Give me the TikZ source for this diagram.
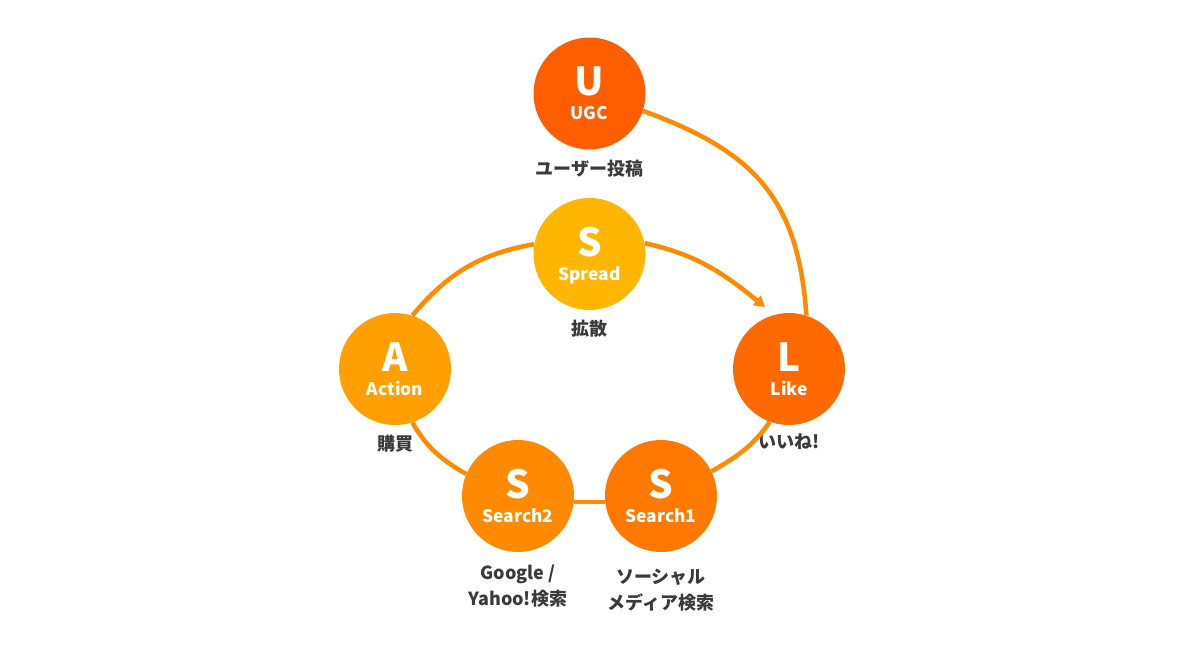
\documentclass[tikz,border=0pt]{standalone}
\usepackage{fontspec}
\setmainfont{Noto Sans CJK JP}
\usetikzlibrary{positioning,arrows.meta}
\definecolor{ugcRed}{RGB}{255,94,0}
\definecolor{spreadYellow}{RGB}{255,182,0}
\definecolor{likeOrange}{RGB}{255,106,0}
\definecolor{searchOneOrange}{RGB}{255,120,0}
\definecolor{searchTwoOrange}{RGB}{255,138,0}
\definecolor{actionOrange}{RGB}{255,160,0}
\definecolor{loopOrange}{RGB}{255,140,0}
\definecolor{captionGray}{RGB}{58,58,58}
\newcommand{\stageletter}[1]{{\fontsize{29}{18}\selectfont #1}}

\begin{document}
\begin{tikzpicture}[x=0.75pt, y=0.75pt,
    stage/.style={circle, fill=#1, minimum size=84pt, inner sep=0pt, text=white,
      align=center, text depth=0pt, font=\bfseries\fontsize{13}{18}\selectfont},
    caption/.style={text=captionGray, align=center, inner sep=0pt,
      font=\bfseries\fontsize{13.5}{20}\selectfont},
    loopline/.style={draw=loopOrange, line width=3.4pt}]
  \useasboundingbox (0,0) rectangle (1181,-664);

  % stages
  \node[stage=ugcRed] (ugc) at (589.5,-93.5) {\stageletter{U}\\UGC};
  \node[stage=spreadYellow] (spread) at (589.5,-254) {\stageletter{S}\\Spread};
  \node[stage=actionOrange] (action) at (395,-369) {\stageletter{A}\\Action};
  \node[stage=likeOrange] (like) at (789,-369) {\stageletter{L}\\Like};
  \node[stage=searchTwoOrange] (search2) at (518,-496) {\stageletter{S}\\Search2};
  \node[stage=searchOneOrange] (search1) at (661,-496) {\stageletter{S}\\Search1};
  \coordinate (likeIn) at (765,-307);

  % captions
  \node[caption, below=7.5pt of ugc] {ユーザー投稿};
  \node[caption, below=7.5pt of spread] {拡散};
  \node[caption, below=7.5pt of action] {購買};
  \node[caption, below=6pt of like] {いいね!};
  \node[caption, below=9pt of search2] {Google /\\Yahoo!検索};
  \node[caption, below=12pt of search1] {ソーシャル\\メディア検索};

  % loop
  \draw[loopline] (action.72) to[out=50, in=190] (spread.170);
  \draw[loopline, -{Triangle[length=8pt, width=9pt]}]
    (spread.11) to[out=-12, in=141] (likeIn);
  \draw[loopline] (like.-110) to[out=-125, in=30] (search1.26);
  \draw[loopline] (search1.186) -- (search2.354);
  \draw[loopline] (search2.157) to[out=150, in=-60] (action.-72);
  \draw[loopline] (ugc.-18) to[out=-20, in=94, looseness=1.15] (like.72);
\end{tikzpicture}
\end{document}
